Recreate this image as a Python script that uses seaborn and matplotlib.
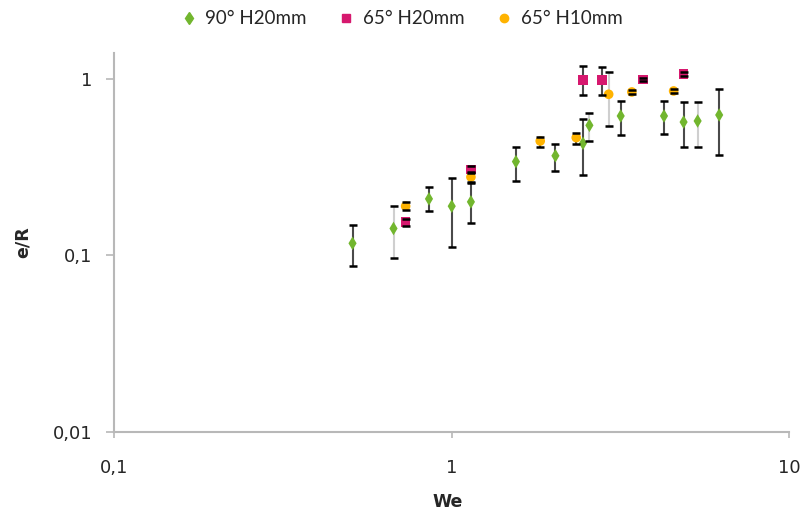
import numpy as np
import pandas as pd
import matplotlib
matplotlib.use("Agg")
import matplotlib.pyplot as plt
import seaborn as sns
from matplotlib.ticker import FixedLocator, FixedFormatter, NullLocator

# 90° H20mm
we_90_h20 = [0.508, 0.672, 0.856, 1.00, 1.14, 1.55, 2.03, 2.45, 2.56, 3.17, 4.26, 4.87, 5.36, 6.21]
eR_90_h20 = [0.117, 0.142, 0.209, 0.190, 0.201, 0.340, 0.367, 0.432, 0.546, 0.617, 0.617, 0.570, 0.578, 0.625]
lo_90_h20 = [0.087, 0.097, 0.179, 0.112, 0.152, 0.264, 0.301, 0.284, 0.445, 0.480, 0.490, 0.410, 0.410, 0.372]
hi_90_h20 = [0.148, 0.191, 0.244, 0.274, 0.256, 0.413, 0.430, 0.591, 0.644, 0.753, 0.753, 0.743, 0.743, 0.874]

# 65° H20mm
we_65_h20 = [0.730, 1.14, 2.45, 2.79, 3.69, 4.87]
eR_65_h20 = [0.154, 0.306, 0.987, 0.987, 0.991, 1.068]
lo_65_h20 = [0.147, 0.292, 0.808, 0.808, 0.970, 1.045]
hi_65_h20 = [0.161, 0.321, 1.180, 1.165, 1.012, 1.090]

# 65° H10mm
we_65_h10 = [0.730, 1.14, 1.83, 2.34, 2.92, 3.42, 4.55]
eR_65_h10 = [0.190, 0.278, 0.445, 0.465, 0.819, 0.844, 0.855]
lo_65_h10 = [0.181, 0.260, 0.413, 0.428, 0.543, 0.825, 0.836]
hi_65_h10 = [0.200, 0.296, 0.471, 0.496, 1.090, 0.864, 0.875]

labels = ["90° H20mm", "65° H20mm", "65° H10mm"]
colors = ["#72b62e", "#d6186e", "#ffb300"]
markers = ["d", "s", "o"]

series = [
    (we_90_h20, eR_90_h20, lo_90_h20, hi_90_h20),
    (we_65_h20, eR_65_h20, lo_65_h20, hi_65_h20),
    (we_65_h10, eR_65_h10, lo_65_h10, hi_65_h10),
]
# which error bars are drawn in light grey
light = [
    [False, True, False, False, False, False, False, False, True, False, False, False, True, False],
    [False] * 6,
    [False, False, False, False, True, False, False],
]

frames = []
for lab, (x, y, lo, hi) in zip(labels, series):
    frames.append(pd.DataFrame({"We": x, "eR": y, "lo": lo, "hi": hi, "serie": lab}))
df = pd.concat(frames, ignore_index=True)

sns.set_style("white")
plt.rcParams['font.family'] = ['DejaVu Sans']

fig = plt.figure(figsize=(8.04, 5.13), dpi=100)
ax = fig.add_axes([0.1424, 0.1585, 0.8389, 0.7382])

# error bars
for i, lab in enumerate(labels):
    d = df[df["serie"] == lab].reset_index(drop=True)
    for j in range(len(d)):
        col = "#cfcfcf" if light[i][j] else "#4a4a4a"
        yv = d.loc[j, "eR"]
        line, caps, bars = ax.errorbar(d.loc[j, "We"], yv,
                                       yerr=[[yv - d.loc[j, "lo"]], [d.loc[j, "hi"] - yv]],
                                       fmt="none", ecolor=col, elinewidth=1.5,
                                       capsize=2.9, capthick=1.8)
        for c in caps:
            c.set_color("black")
            c.set_markeredgecolor("black")
            c.set_zorder(5)
        for b in bars:
            b.set_zorder(2)

sns.scatterplot(data=df, x="We", y="eR", hue="serie", style="serie",
                palette=colors, markers=markers, s=48, linewidth=0,
                ax=ax, zorder=4, legend=False)

ax.set_xscale("log")
ax.set_yscale("log")
ax.set_xlim(0.1, 10)
ax.set_ylim(0.01, 1.404)

ax.xaxis.set_major_locator(FixedLocator([0.1, 1, 10]))
ax.xaxis.set_major_formatter(FixedFormatter(["0,1", "1", "10"]))
ax.yaxis.set_major_locator(FixedLocator([0.01, 0.1, 1]))
ax.yaxis.set_major_formatter(FixedFormatter(["0,01", "0,1", "1"]))
ax.xaxis.set_minor_locator(NullLocator())
ax.yaxis.set_minor_locator(NullLocator())

for side in ["top", "right"]:
    ax.spines[side].set_visible(False)
for side in ["left", "bottom"]:
    ax.spines[side].set_color("#b8b8b8")
    ax.spines[side].set_linewidth(1.5)

ax.tick_params(axis="x", which="major", direction="out", length=4.5, width=1.2,
               color="#b8b8b8", labelsize=13, pad=15.5, bottom=True)
ax.tick_params(axis="y", which="major", direction="out", length=5.8, width=1.2,
               color="#b8b8b8", labelsize=13, pad=10, left=True)
for t in ax.get_xticklabels() + ax.get_yticklabels():
    t.set_family("DejaVu Sans")

ax.set_xlabel("We", fontsize=12.5, fontweight="bold", family="DejaVu Sans")
ax.set_ylabel("e/R", fontsize=12.5, fontweight="bold", family="DejaVu Sans")
ax.xaxis.set_label_coords(0.494, -0.163)
ax.yaxis.set_label_coords(-0.123, 0.5)

# legend
handles = [plt.Line2D([], [], linestyle="none", marker=m, color=c, markersize=6)
           for m, c in zip(markers, colors)]
fig.legend(handles, labels, loc="center", bbox_to_anchor=(0.5, 0.963), ncol=3,
           frameon=False, prop={"family": "Lato", "size": 13.5},
           handlelength=0.8, handletextpad=0.5, columnspacing=1.7)

fig.savefig("out.png", dpi=100)
